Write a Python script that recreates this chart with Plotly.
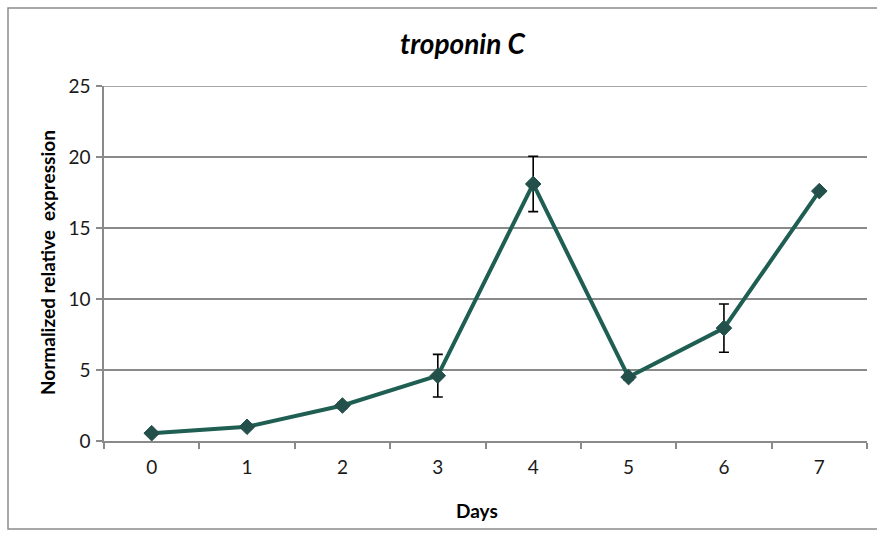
import plotly.graph_objects as go

# Troponin C expression over the differentiation time course
days = ["0", "1", "2", "3", "4", "5", "6", "7"]
expression = [0.55, 1.0, 2.5, 4.6, 18.1, 4.5, 7.95, 17.6]
error = [0.1, 0.15, 0.2, 1.5, 1.95, 0.2, 1.7, 0.15]
y_ticks = [0, 5, 10, 15, 20, 25]

W, H = 877, 534
L, R, T, B = 104, 10, 86, 93
PW, PH = W - L - R, H - T - B

line_color = "#1f5e52"
grid_color = "#8a8a8a"
font_family = "Lato, 'Open Sans', sans-serif"


def px_x(x):
    return (x - L) / PW


def px_y(y):
    return (H - B - y) / PH


fig = go.Figure()
fig.add_trace(go.Scatter(
    x=days, y=expression,
    mode="lines+markers",
    line=dict(color=line_color, width=4),
    marker=dict(symbol="diamond", size=12, color="#23504a",
                line=dict(color="#23504a", width=1)),
    error_y=dict(type="data", array=error, visible=True,
                 color="black", thickness=1.6, width=5),
    showlegend=False,
    cliponaxis=False,
))

fig.update_layout(
    width=W, height=H,
    margin=dict(l=L, r=R, t=T, b=B),
    paper_bgcolor="white",
    plot_bgcolor="white",
    font=dict(family=font_family, color="#1a1a1a", size=19),
    xaxis=dict(
        type="category",
        range=[-0.5, 7.5],
        tickson="boundaries",
        ticks="outside", ticklen=6, tickcolor=grid_color, tickwidth=1.5,
        ticklabelstandoff=8,
        showline=True, linecolor=grid_color, linewidth=1.5,
        showgrid=False, zeroline=False,
        tickfont=dict(size=19, family=font_family, color="#1a1a1a"),
    ),
    yaxis=dict(
        range=[0, 25],
        tickvals=y_ticks,
        ticks="outside", ticklen=6, tickcolor=grid_color, tickwidth=1.5,
        ticklabelstandoff=2,
        showline=True, linecolor=grid_color, linewidth=1.5,
        showgrid=True, gridcolor=grid_color, gridwidth=1.5,
        zeroline=False,
        tickfont=dict(size=19, family=font_family, color="#1a1a1a"),
    ),
    shapes=[
        dict(type="rect", xref="paper", yref="paper",
             x0=px_x(8), x1=px_x(880), y0=px_y(529), y1=px_y(8),
             line=dict(color="#8c8c8c", width=1.5), fillcolor="rgba(0,0,0,0)",
             layer="below"),
        # top gridline at the upper end of the value axis
        dict(type="line", xref="paper", yref="y", x0=0, x1=1,
             y0=y_ticks[-1], y1=y_ticks[-1],
             line=dict(color=grid_color, width=1.5), layer="below"),
    ],
    annotations=[
        dict(text="<b><i>troponin C</i></b>", xref="paper", yref="paper",
             x=px_x(463), y=px_y(43),
             xanchor="center", yanchor="middle", showarrow=False,
             font=dict(size=28, family=font_family, color="black")),
        dict(text="<b>Days</b>", xref="paper", yref="paper",
             x=px_x(477), y=px_y(510),
             xanchor="center", yanchor="middle", showarrow=False,
             font=dict(size=19, family=font_family, color="black")),
        dict(text="<b>Normalized relative  expression</b>", xref="paper", yref="paper",
             x=px_x(47), y=px_y(263),
             xanchor="center", yanchor="middle", showarrow=False, textangle=-90,
             font=dict(size=19, family=font_family, color="black")),
    ],
)

fig.write_html("out.html")
